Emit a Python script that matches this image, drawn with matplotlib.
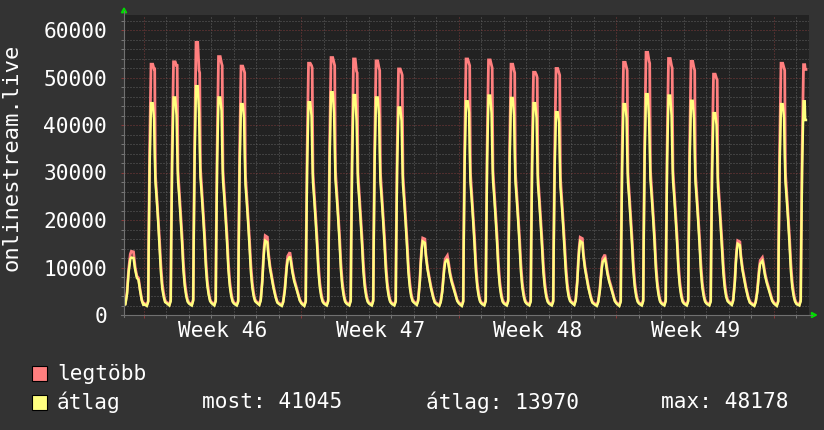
import matplotlib
matplotlib.use('Agg')
import matplotlib.pyplot as plt
from matplotlib.patches import Rectangle, Polygon
from matplotlib.lines import Line2D
from matplotlib.transforms import blended_transform_factory

# ---------------- data (hours relative to the start of each day) ----------------
FIRST_HOURS = [2.7, 4.1, 5.9, 7.6, 9.4, 10.5, 12.8, 14.6, 16.4, 18.1, 19.9, 21.7, 23.5]
WD_HOURS = [0, 3, 4.5, 5, 6, 7.5, 9.3, 10.7, 11.4, 12.2, 13.5, 15, 16.5, 18, 19.5, 21, 22.5]
WE_HOURS = [0, 3, 4.5, 6.2, 7.3, 8.2, 9.3, 11.6, 12.6, 14.4, 16.2, 18.0, 20.4, 22.2]
LAST_HOURS = [0, 3, 4.5, 5, 6, 7.5, 8.8, 9.3, 10.1]

DAYS = list(range(-1, 30))   # day 0 = Monday of week 46

MAX_BY_DAY = [
    [2300, 2400, 4800, 9600, 12800, 13400, 13300, 10000, 8200, 7800, 5300, 3200, 2200],
    [2500, 2100, 3000, 15500, 34500, 52800, 52800, 51800, 51800, 29500, 25500, 21000, 16000, 10500, 6500, 4500, 3000],
    [2700, 2200, 3200, 16000, 34800, 53300, 53300, 52500, 52500, 30500, 26500, 22000, 17000, 11000, 7000, 4700, 3100],
    [2600, 2200, 3300, 16500, 36000, 57400, 57400, 51500, 51000, 31000, 27000, 22500, 17500, 11500, 7200, 4800, 3200],
    [2700, 2200, 3200, 16000, 35000, 54400, 54400, 53000, 52500, 30500, 26500, 22000, 17000, 11000, 7000, 4700, 3100],
    [2600, 2200, 3100, 15500, 34000, 52400, 52400, 51500, 51000, 29500, 25500, 21000, 16000, 10500, 6800, 4500, 3200],
    [2800, 2300, 3300, 7400, 11800, 14500, 16700, 16400, 13300, 10300, 8200, 6200, 4000, 2800],
    [2500, 2100, 2900, 5500, 8300, 10500, 12400, 13200, 12000, 9400, 7600, 6300, 4500, 3200],
    [2600, 2100, 3000, 15500, 34500, 53000, 53000, 52500, 52000, 30000, 26000, 21500, 16500, 10800, 6800, 4600, 3100],
    [2600, 2200, 3200, 16000, 35500, 54200, 54200, 53000, 52500, 30500, 26500, 22000, 17000, 11000, 7000, 4700, 3100],
    [2600, 2200, 3200, 16000, 35000, 53900, 53900, 51300, 51000, 30000, 26000, 21500, 16500, 10800, 6800, 4600, 3100],
    [2600, 2200, 3200, 16000, 35000, 53500, 53500, 52000, 51500, 30000, 26000, 21500, 16500, 10800, 6800, 4600, 3100],
    [2600, 2200, 3100, 15500, 34000, 51800, 51800, 51000, 50500, 29500, 25500, 21000, 16000, 10500, 6800, 4500, 3200],
    [2800, 2300, 3300, 7300, 11600, 14200, 16200, 16000, 13000, 10100, 8000, 6100, 4000, 2800],
    [2500, 2100, 2900, 5300, 8000, 10100, 11800, 12500, 11400, 9000, 7300, 6100, 4400, 3100],
    [2600, 2100, 3000, 15800, 35000, 53900, 53900, 53000, 52500, 30000, 26000, 21500, 16500, 10800, 6800, 4600, 3100],
    [2600, 2200, 3200, 16000, 35500, 53700, 53700, 52500, 52000, 30500, 26500, 22000, 17000, 11000, 7000, 4700, 3100],
    [2600, 2200, 3200, 16000, 35000, 52800, 52800, 51500, 51000, 30000, 26000, 21500, 16500, 10800, 6800, 4600, 3100],
    [2600, 2200, 3100, 15500, 34500, 51100, 51100, 50500, 50000, 29500, 25500, 21000, 16000, 10500, 6800, 4500, 3100],
    [2600, 2200, 3100, 15000, 33500, 51900, 51900, 51000, 50500, 29000, 25000, 20500, 15500, 10300, 6600, 4400, 3200],
    [2800, 2300, 3300, 7400, 11700, 14300, 16350, 16100, 13100, 10200, 8100, 6100, 4000, 2800],
    [2500, 2100, 2900, 5400, 8100, 10200, 11900, 12700, 11600, 9100, 7400, 6200, 4400, 3100],
    [2600, 2100, 3000, 15500, 34500, 53200, 53200, 52000, 51500, 30000, 26000, 21500, 16500, 10800, 6800, 4600, 3100],
    [2600, 2200, 3200, 16500, 36000, 55300, 55300, 53500, 53000, 30500, 26500, 22000, 17000, 11000, 7000, 4700, 3100],
    [2600, 2200, 3200, 16000, 35500, 54000, 54000, 52500, 52000, 30500, 26500, 22000, 17000, 11000, 7000, 4700, 3100],
    [2600, 2200, 3200, 16000, 35000, 53400, 53400, 52000, 51500, 30000, 26000, 21500, 16500, 10800, 6800, 4600, 3100],
    [2600, 2200, 3100, 15000, 33500, 50700, 50700, 49800, 49500, 29000, 25000, 20500, 15500, 10300, 6600, 4400, 3200],
    [2800, 2300, 3300, 7200, 11400, 13900, 15650, 15400, 12700, 9900, 7900, 6000, 3900, 2800],
    [2500, 2100, 2900, 5200, 7800, 9800, 11500, 12100, 11100, 8800, 7200, 6000, 4300, 3100],
    [2600, 2100, 3000, 15500, 34500, 53000, 53000, 52000, 51500, 30000, 26000, 21500, 16500, 10800, 6800, 4600, 3100],
    [2500, 2200, 3200, 15500, 34500, 52700, 52700, 51700, 51700],
]

AVG_BY_DAY = [
    [2100, 2200, 4400, 9000, 11800, 12100, 12000, 9500, 7800, 7400, 5000, 3000, 2000],
    [2300, 1900, 2800, 14000, 31000, 44600, 44600, 41300, 34000, 28000, 24500, 19900, 14500, 9000, 5500, 3800, 2700],
    [2500, 2000, 2900, 14500, 32000, 45800, 45800, 42000, 35000, 28500, 25000, 20500, 15500, 9500, 6000, 4000, 2800],
    [2400, 2000, 3000, 15000, 33000, 48178, 48178, 42500, 35500, 29000, 25500, 21000, 16000, 10000, 6200, 4200, 2900],
    [2500, 2000, 2900, 14500, 32000, 45800, 45800, 43000, 35000, 28500, 25000, 20500, 15500, 9500, 6000, 4000, 2800],
    [2400, 2000, 2800, 14000, 31000, 44400, 44400, 41500, 34000, 27500, 24000, 19500, 14500, 9000, 5800, 3900, 2900],
    [2600, 2100, 3000, 7000, 11200, 13800, 15650, 15300, 12700, 9800, 7800, 5800, 3700, 2600],
    [2300, 1900, 2700, 5100, 7800, 9900, 11600, 12300, 11300, 8900, 7100, 5900, 4200, 3000],
    [2400, 1900, 2800, 14000, 31000, 44800, 44800, 41900, 34500, 28000, 24500, 20000, 15000, 9200, 5800, 3900, 2800],
    [2400, 2000, 2900, 14500, 32500, 46900, 46900, 42500, 35500, 28500, 25000, 20500, 15500, 9500, 6000, 4000, 2800],
    [2400, 2000, 2900, 14500, 32000, 46300, 46300, 40900, 34500, 28000, 24500, 20000, 15000, 9200, 5800, 3900, 2800],
    [2400, 2000, 2900, 14500, 32000, 45800, 45800, 42000, 34500, 28000, 24500, 20000, 15000, 9200, 5800, 3900, 2800],
    [2400, 2000, 2800, 14000, 31000, 43700, 43700, 40900, 34000, 27500, 24000, 19500, 14500, 9000, 5800, 3900, 2900],
    [2600, 2100, 3000, 6900, 11000, 13600, 15500, 15200, 12500, 9600, 7600, 5700, 3700, 2600],
    [2300, 1900, 2700, 4900, 7500, 9500, 11100, 11800, 10800, 8500, 6900, 5700, 4100, 2900],
    [2400, 1900, 2800, 14300, 31500, 45000, 45000, 42600, 34500, 28000, 24500, 20000, 15000, 9200, 5800, 3900, 2800],
    [2400, 2000, 2900, 14500, 32500, 46200, 46200, 42500, 35000, 28500, 25000, 20500, 15500, 9500, 6000, 4000, 2800],
    [2400, 2000, 2900, 14500, 32000, 45700, 45700, 42000, 34500, 28000, 24500, 20000, 15000, 9200, 5800, 3900, 2800],
    [2400, 2000, 2800, 14000, 31500, 44600, 44600, 41500, 34000, 27500, 24000, 19500, 14500, 9000, 5800, 3900, 2800],
    [2400, 2000, 2800, 13500, 30500, 42700, 42700, 40500, 33500, 27000, 23500, 19000, 14000, 8800, 5600, 3800, 2900],
    [2600, 2100, 3000, 7000, 11100, 13700, 15560, 15200, 12600, 9700, 7700, 5700, 3700, 2600],
    [2300, 1900, 2700, 5000, 7600, 9600, 11200, 11800, 10900, 8600, 7000, 5800, 4100, 2900],
    [2400, 1900, 2800, 14000, 31000, 44400, 44400, 41500, 34000, 28000, 24500, 20000, 15000, 9200, 5800, 3900, 2800],
    [2400, 2000, 2900, 15000, 33000, 46500, 46500, 41300, 35000, 28500, 25000, 20500, 15500, 9500, 6000, 4000, 2800],
    [2400, 2000, 2900, 14500, 32500, 46200, 46200, 42000, 35000, 28500, 25000, 20500, 15500, 9500, 6000, 4000, 2800],
    [2400, 2000, 2900, 14500, 32000, 45100, 45100, 41300, 34500, 28000, 24500, 20000, 15000, 9200, 5800, 3900, 2800],
    [2400, 2000, 2800, 13500, 30500, 42500, 42500, 40000, 33500, 27000, 23500, 19000, 14000, 8800, 5600, 3800, 2900],
    [2600, 2100, 3000, 6800, 10900, 13300, 15000, 14700, 12200, 9400, 7500, 5600, 3600, 2600],
    [2300, 1900, 2700, 4800, 7300, 9200, 10800, 11400, 10500, 8300, 6800, 5600, 4000, 2900],
    [2400, 1900, 2800, 14000, 31000, 44400, 44400, 41500, 34000, 28000, 24500, 20000, 15000, 9200, 5800, 3900, 2800],
    [2300, 2000, 2900, 14000, 31000, 45000, 45000, 41045, 41045],
]

WEEK_LABELS = ['Week 46', 'Week 47', 'Week 48', 'Week 49']
Y_TICKS = [0, 10000, 20000, 30000, 40000, 50000, 60000]
SERIES_NAMES = ['legtöbb', 'átlag']
STATS = ['most: 41045', 'átlag: 13970', 'max: 48178']
Y_LABEL = 'onlinestream.live'

# ---------------- build series ----------------
def day_hours(d):
    if d == DAYS[0]:
        return FIRST_HOURS
    if d == DAYS[-1]:
        return LAST_HOURS
    return WD_HOURS if d % 7 < 5 else WE_HOURS

t_all, max_all, avg_all = [], [], []
for d, mx, av in zip(DAYS, MAX_BY_DAY, AVG_BY_DAY):
    hrs = day_hours(d)
    for h, a, b in zip(hrs, mx, av):
        t_all.append(d * 24 + h)
        max_all.append(a)
        avg_all.append(b)

# ---------------- figure ----------------
W, H = 824, 430
BG = '#333333'
PLOT_BG = '#222222'
FS = 15.2
fig = plt.figure(figsize=(W / 100, H / 100), dpi=100, facecolor=BG)
plt.rcParams['font.family'] = ['DejaVu Sans Mono', 'DejaVu Sans']

def fx(x):
    return x / W

def fy(y):
    return 1 - y / H

L, R, T, B = 124, 809, 14.7, 315
ax = fig.add_axes([fx(L), fy(B), (R - L) / W, (B - T) / H])
ax.set_facecolor(PLOT_BG)

px_per_hour = 22.5 / 24
x0 = (L - 144) / px_per_hour
x1 = (R - 144) / px_per_hour
ax.set_xlim(x0, x1)
ax.set_ylim(0, (B - T) / 47.5 * 10000)

week_ticks = [168 * k for k in range(5)]
day_ticks = [24 * k for k in range(-1, 30) if k % 7 != 0 and x0 < 24 * k < x1]
ax.set_xticks(week_ticks)
ax.set_xticks(day_ticks, minor=True)
ax.set_xticklabels([])
ax.set_yticks(Y_TICKS)
ax.set_yticks([v for v in range(0, 63001, 2000) if v % 10000 != 0], minor=True)
ax.set_yticklabels([str(v) for v in Y_TICKS])

ax.grid(which='minor', color='#606060', lw=0.72, ls=(0, (1, 2)))
ax.grid(which='major', color='#7c3a3a', lw=0.72, ls=(0, (1, 2)))
ax.set_axisbelow(True)

ax.tick_params(which='both', direction='out', length=2.2, width=0.72, colors='#777777',
               labelcolor='white', labelsize=FS, pad=10)
ax.tick_params(which='major', colors='#8a3a3a', labelcolor='white')
ax.tick_params(axis='y', which='major', pad=10.0)
for lab in ax.get_yticklabels():
    lab.set_fontfamily('DejaVu Sans Mono')

for s in ax.spines.values():
    s.set_visible(False)

ax.plot(t_all, max_all, color='#ff7f7f', lw=2.0, solid_joinstyle='miter', zorder=3)
ax.plot(t_all, avg_all, color='#ffff7f', lw=1.75, solid_joinstyle='miter', zorder=4)

# week labels
tr = blended_transform_factory(ax.transData, fig.transFigure)
for k, lab in enumerate(WEEK_LABELS):
    ax.text(84 + 168 * k, fy(331), lab, transform=tr, ha='center', va='center',
            color='white', fontsize=FS, family='DejaVu Sans Mono')

# axes lines and arrows
fig.add_artist(Line2D([fx(L), fx(L)], [fy(B + 2), fy(11)], color='#707070', lw=0.8))
fig.add_artist(Line2D([fx(L - 3), fx(812)], [fy(B), fy(B)], color='#707070', lw=0.8))
fig.add_artist(Polygon([[fx(L - 2.6), fy(12.7)], [fx(L + 2.6), fy(12.7)], [fx(L), fy(8.0)]],
                       closed=True, color='#00dd00', transform=fig.transFigure))
fig.add_artist(Polygon([[fx(811.5), fy(B - 2.6)], [fx(811.5), fy(B + 2.6)], [fx(816.5), fy(B)]],
                       closed=True, color='#00dd00', transform=fig.transFigure))

# y label
fig.text(fx(12), fy(157), Y_LABEL, rotation=90, ha='center', va='center',
         color='white', fontsize=15.9, family='DejaVu Sans Mono')

# legend
for i, (name, col) in enumerate(zip(SERIES_NAMES, ['#ff7f7f', '#ffff7f'])):
    ytop = 366 + i * 28.5
    fig.add_artist(Rectangle((fx(31.6), fy(ytop + 15)), 15.8 / W, 15 / H, transform=fig.transFigure,
                             facecolor=col, edgecolor='black', lw=0.8))
    fig.text(fx(57), fy(ytop + 8), name, ha='left', va='center', color='white',
             fontsize=FS, family='DejaVu Sans Mono')

for txt, xl in zip(STATS, [202, 426, 661]):
    fig.text(fx(xl), fy(402.5), txt, ha='left', va='center', color='white',
             fontsize=FS, family='DejaVu Sans Mono')

fig.savefig('out.png', dpi=100, facecolor=BG)
